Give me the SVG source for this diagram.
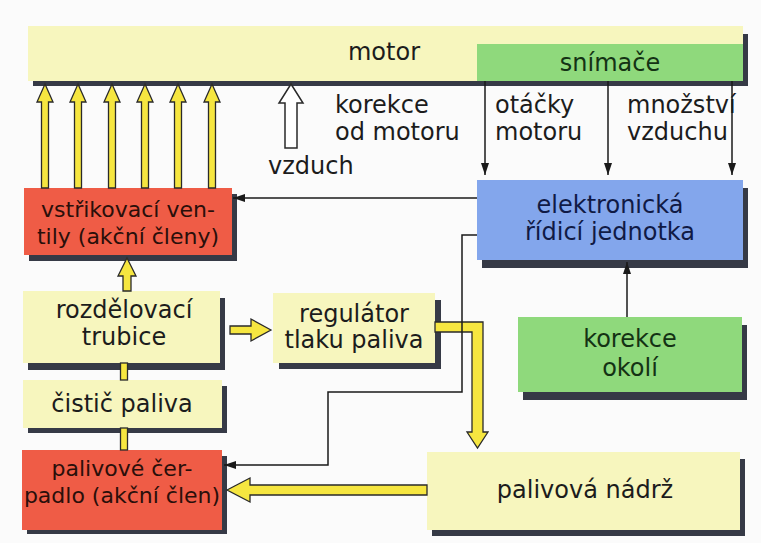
<svg xmlns="http://www.w3.org/2000/svg" width="761" height="543" viewBox="0 0 761 543">
<defs>
<style>
.t{font-family:"DejaVu Sans","Liberation Sans",sans-serif;font-size:24px;fill:#1c1c1c}
.s{font-size:22px;fill:#2a0f0a}
.c{text-anchor:middle}
.red{fill:#ef5c46}
.yel{fill:#f7f6be}
.grn{fill:#8fd97c}
.blu{fill:#83a6ec}
.sh{fill:#363a46}
.ln{fill:none;stroke:#1a1a1a;stroke-width:1.5}
.ya{fill:#f6e640;stroke:#2a2a2a;stroke-width:1.3;stroke-linejoin:miter}
.wa{fill:#ffffff;stroke:#2a2a2a;stroke-width:1.5}
</style>
<marker id="ah" viewBox="0 0 12 8" refX="12" refY="4" markerWidth="12" markerHeight="8" markerUnits="userSpaceOnUse" orient="auto">
<path d="M0,0 L12,4 L0,8 Z" fill="#1a1a1a"/>
</marker>
</defs>
<rect width="761" height="543" fill="#fbfbfb"/>

<g id="motor">
<rect class="sh" x="33" y="34" width="715" height="52"/>
<rect class="yel" x="28" y="26" width="715" height="55"/>
<text class="t c" x="384" y="60">motor</text>
</g>
<g id="snimace">
<rect class="grn" x="477" y="44" width="266" height="37"/>
<text class="t c" x="610" y="71" style="fill:#143214">snímače</text>
</g>

<g id="vstrikovaci">
<rect class="sh" x="29" y="194" width="208" height="67"/>
<rect class="red" x="24" y="188" width="208" height="67"/>
<text class="t s c" x="128" y="217">vstřikovací ven-</text>
<text class="t s c" x="128" y="244">tily (akční členy)</text>
</g>

<g id="ridici">
<rect class="sh" x="482" y="188" width="266" height="80"/>
<rect class="blu" x="477" y="180" width="266" height="80"/>
<text class="t c" x="610" y="213" style="fill:#101a45">elektronická</text>
<text class="t c" x="610" y="240" style="fill:#101a45">řídicí jednotka</text>
</g>

<g id="rozdelovaci">
<rect class="sh" x="28" y="298" width="197" height="72"/>
<rect class="yel" x="23" y="291" width="197" height="72"/>
<text class="t c" x="124" y="318">rozdělovací</text>
<text class="t c" x="124" y="345">trubice</text>
</g>

<g id="regulator">
<rect class="sh" x="279" y="300" width="162" height="69"/>
<rect class="yel" x="273" y="293" width="162" height="70"/>
<text class="t c" x="354" y="322">regulátor</text>
<text class="t c" x="354" y="348">tlaku paliva</text>
</g>

<g id="korekce-okoli">
<rect class="sh" x="523" y="325" width="224" height="75"/>
<rect class="grn" x="518" y="317" width="224" height="75"/>
<text class="t c" x="630" y="347" style="fill:#143214">korekce</text>
<text class="t c" x="630" y="376" style="fill:#143214">okolí</text>
</g>

<g id="cistic">
<rect class="sh" x="28" y="386" width="199" height="47"/>
<rect class="yel" x="23" y="380" width="199" height="48"/>
<text class="t c" x="122" y="412">čistič paliva</text>
</g>

<g id="cerpadlo">
<rect class="sh" x="27" y="456" width="200" height="78"/>
<rect class="red" x="22" y="450" width="200" height="80"/>
<text class="t s c" x="122" y="476">palivové čer-</text>
<text class="t s c" x="122" y="503">padlo (akční člen)</text>
</g>

<g id="nadrz">
<rect class="sh" x="432" y="459" width="313" height="77"/>
<rect class="yel" x="427" y="452" width="313" height="78"/>
<text class="t c" x="585" y="498">palivová nádrž</text>
</g>

<g id="labels">
<text class="t" x="335" y="113">korekce</text>
<text class="t" x="335" y="140">od motoru</text>
<text class="t" x="268" y="174">vzduch</text>
<text class="t" x="495" y="113">otáčky</text>
<text class="t" x="495" y="140">motoru</text>
<text class="t" x="627" y="113">množství</text>
<text class="t" x="627" y="140">vzduchu</text>
</g>

<g id="connectors">
<path class="ya" d="M45,84 L53,102 L48.5,102 L48.5,188 L41.5,188 L41.5,102 L37,102 Z"/>
<path class="ya" d="M78,84 L86,102 L81.5,102 L81.5,188 L74.5,188 L74.5,102 L70,102 Z"/>
<path class="ya" d="M112,84 L120,102 L115.5,102 L115.5,188 L108.5,188 L108.5,102 L104,102 Z"/>
<path class="ya" d="M145,84 L153,102 L148.5,102 L148.5,188 L141.5,188 L141.5,102 L137,102 Z"/>
<path class="ya" d="M178,84 L186,102 L181.5,102 L181.5,188 L174.5,188 L174.5,102 L170,102 Z"/>
<path class="ya" d="M212,84 L220,102 L215.5,102 L215.5,188 L208.5,188 L208.5,102 L204,102 Z"/>
<path class="wa" d="M291,84 L303,103 L297,103 L297,148 L285,148 L285,103 L279,103 Z"/>
<path class="ya" d="M127,258 L136,276 L131,276 L131,291 L123,291 L123,276 L118,276 Z"/>
<rect class="ya" x="120.5" y="363" width="7" height="17"/>
<rect class="ya" x="120.5" y="428" width="7" height="22"/>
<path class="ya" d="M271,330 L251,319 L251,326 L230,326 L230,334 L251,334 L251,341 Z"/>
<path class="ya" d="M435,322 L483,322 L483,432 L488,432 L477.5,448 L467,432 L472,432 L472,332 L435,332 Z"/>
<path class="ya" d="M227,490 L250,478 L250,485 L427,485 L427,495 L250,495 L250,502 Z"/>
<path class="ln" d="M485,81 V175" marker-end="url(#ah)"/>
<path class="ln" d="M608,81 V175" marker-end="url(#ah)"/>
<path class="ln" d="M732,81 V175" marker-end="url(#ah)"/>
<path class="ln" d="M477,198 H233" marker-end="url(#ah)"/>
<path class="ln" d="M627,317 V262" marker-end="url(#ah)"/>
<path class="ln" d="M477,235 H462 V392 H328 V465 H224" marker-end="url(#ah)"/>
</g>
</svg>
